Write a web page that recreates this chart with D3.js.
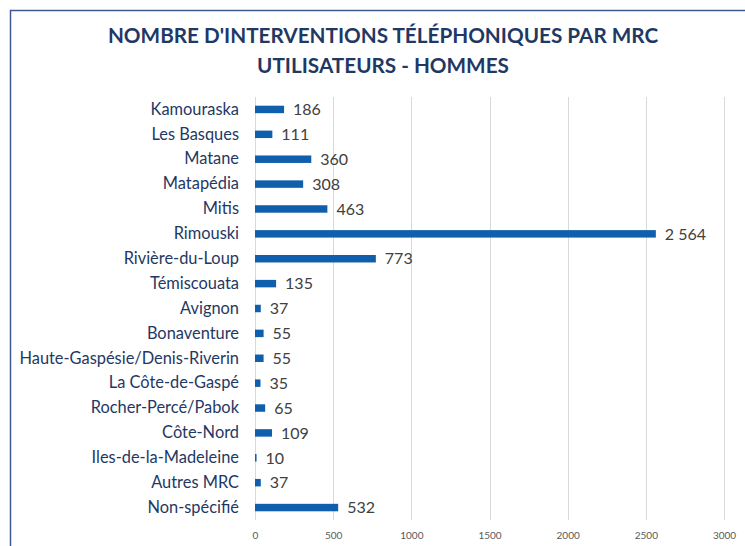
<!DOCTYPE html>
<html>
<head>
<meta charset="utf-8">
<script src="https://cdn.jsdelivr.net/npm/d3@7"></script>
<style>
  body { margin: 0; background: #fff; }
  text { font-family: Lato, "Open Sans", sans-serif; }
</style>
</head>
<body>
<div id="chart"></div>
<script>
// data
const regions = ['Kamouraska', 'Les Basques', 'Matane', 'Matapédia', 'Mitis', 'Rimouski',
    'Rivière-du-Loup', 'Témiscouata', 'Avignon', 'Bonaventure', 'Haute-Gaspésie/Denis-Riverin',
    'La Côte-de-Gaspé', 'Rocher-Percé/Pabok', 'Côte-Nord', 'Iles-de-la-Madeleine', 'Autres MRC',
    'Non-spécifié'];
const interventions = [186, 111, 360, 308, 463, 2564, 773, 135, 37, 55, 55, 35, 65, 109, 10, 37, 532];
const xTicks = [0, 500, 1000, 1500, 2000, 2500, 3000];
const titleLines = ["NOMBRE D'INTERVENTIONS TÉLÉPHONIQUES PAR MRC", 'UTILISATEURS - HOMMES'];

const W = 745, H = 546;
const margin = {top: 97, right: 21, bottom: 26, left: 255};
const width = W - margin.left - margin.right,
    height = H - margin.top - margin.bottom;

const svgRoot = d3.select('#chart').append('svg')
    .attr('width', W)
    .attr('height', H);

// chart frame (top and left edges visible)
svgRoot.append('path')
    .attr('d', 'M10.5,' + H + ' V10.5 H' + W)
    .attr('fill', 'none')
    .attr('stroke', '#3E5A92')
    .attr('stroke-width', 1.5);

// title
svgRoot.selectAll('.title')
    .data(titleLines)
    .enter()
    .append('text')
    .attr('class', 'title')
    .attr('x', 383)
    .attr('y', (d, i) => 43 + i * 30)
    .attr('text-anchor', 'middle')
    .style('font-size', '20.7px')
    .style('font-weight', 'bold')
    .style('fill', '#1F3864')
    .text(d => d);

const svg = svgRoot.append('g')
    .attr('transform', 'translate(' + margin.left + ',' + margin.top + ')');

const x = d3.scaleLinear().domain([0, 3000]).range([0, width]);
const y = d3.scaleBand().domain(regions).range([0, height]).paddingInner(0.7).paddingOuter(0.35);

// gridlines
svg.selectAll('.grid')
    .data(xTicks)
    .enter()
    .append('line')
    .attr('x1', d => Math.round(x(d)) + 0.5)
    .attr('x2', d => Math.round(x(d)) + 0.5)
    .attr('y1', 0)
    .attr('y2', height)
    .style('stroke', '#D9D9D9')
    .style('stroke-width', 1);

// x axis labels
const xAxis = svg.append('g')
    .attr('transform', 'translate(0,' + height + ')')
    .call(d3.axisBottom(x).tickValues(xTicks).tickSize(0).tickPadding(12).tickFormat(d3.format('d')));
xAxis.select('.domain').remove();
xAxis.selectAll('text')
    .style('font-family', 'Lato, "Open Sans", sans-serif')
    .style('font-size', '10px')
    .style('fill', '#595959');

// y axis labels
const yAxis = svg.append('g')
    .call(d3.axisLeft(y).tickSize(0).tickPadding(16));
yAxis.select('.domain').remove();
yAxis.selectAll('text')
    .style('font-family', 'Lato, "Open Sans", sans-serif')
    .style('font-size', '16.4px')
    .style('fill', '#1F3864');

const rows = regions.map((r, i) => ({region: r, value: interventions[i]}));

svg.selectAll('.bar')
    .data(rows)
    .enter()
    .append('rect')
    .attr('class', 'bar')
    .attr('x', x(0))
    .attr('y', d => y(d.region))
    .attr('width', d => x(d.value) - x(0))
    .attr('height', y.bandwidth())
    .style('fill', '#0F5FAD');

const fmt = d3.formatLocale({decimal: ',', thousands: '\u00a0', grouping: [3], currency: ['', ' $']}).format(',d');

svg.selectAll('.value')
    .data(rows)
    .enter()
    .append('text')
    .attr('class', 'value')
    .attr('x', d => x(d.value) + 9)
    .attr('y', d => y(d.region) + y.bandwidth() / 2)
    .attr('dy', '0.36em')
    .style('font-size', '16px')
    .style('fill', '#404040')
    .text(d => fmt(d.value));
</script>
</body>
</html>
